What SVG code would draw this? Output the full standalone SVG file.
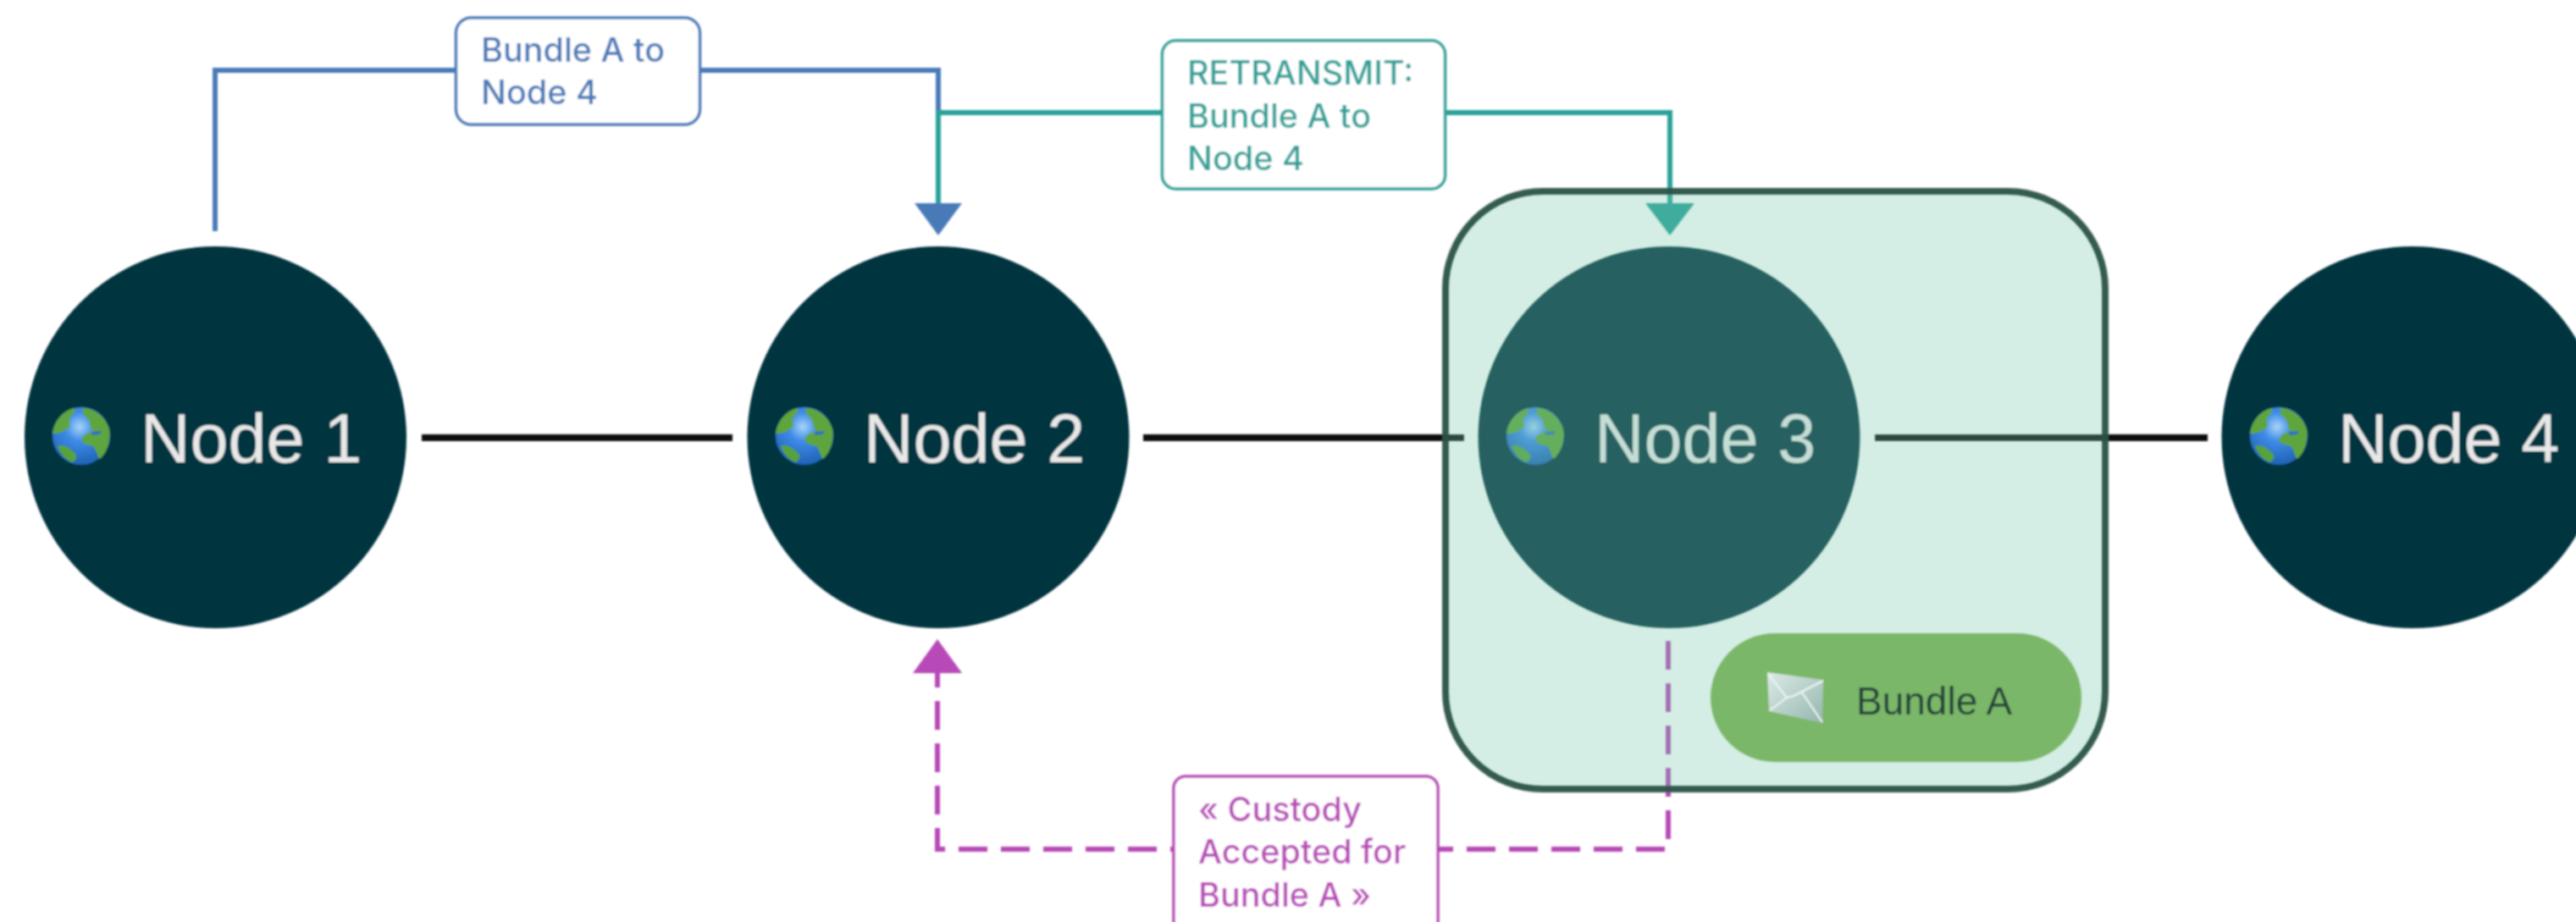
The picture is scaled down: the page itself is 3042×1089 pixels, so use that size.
<svg xmlns="http://www.w3.org/2000/svg" xmlns:xlink="http://www.w3.org/1999/xlink" width="3042" height="1089" viewBox="0 0 3042 1089">
<style>
.node{fill:#063541}
.nlabel{font-family:"Liberation Sans",Arial,sans-serif;font-size:81px;fill:#e8e8e8}
.lab{font-family:Inter,"Liberation Sans",sans-serif;font-size:39.500px;font-weight:500}
.link{stroke:#111;stroke-width:8;fill:none}
.conn{fill:none;stroke-width:6}
.box{fill:#fff;stroke-width:3.500}
.blue{stroke:#4a7ab8}.teal{stroke:#2aa198}.purple{stroke:#b84ab8}
.tblue{fill:#4a7ab8}.tteal{fill:#2aa198}.tpurple{fill:#b84ab8}
</style>
<defs>
<filter id="soft" x="-2%" y="-2%" width="104%" height="104%"><feGaussianBlur stdDeviation="1.1"/></filter>
<marker id="aBlue" markerUnits="userSpaceOnUse" markerWidth="38" markerHeight="56" refX="0" refY="28" orient="auto"><path d="M0 0L38 28L0 56Z" fill="#4a7ab8"/></marker>
<marker id="aTeal" markerUnits="userSpaceOnUse" markerWidth="38" markerHeight="58" refX="0" refY="29" orient="auto"><path d="M0 0L38 29L0 58Z" fill="#2aa198"/></marker>
<marker id="aPurple" markerUnits="userSpaceOnUse" markerWidth="40" markerHeight="58" refX="0" refY="29" orient="auto"><path d="M0 0L40 29L0 58Z" fill="#b84ab8"/></marker>
<radialGradient id="sea" cx="0.47" cy="0.34" r="0.7"><stop offset="0" stop-color="#a8d4f8"/><stop offset="0.35" stop-color="#3f8ce8"/><stop offset="1" stop-color="#1c5fb0"/></radialGradient>
<linearGradient id="env" x1="0" y1="0" x2="1" y2="1"><stop offset="0" stop-color="#dcebe8"/><stop offset="1" stop-color="#95b5ad"/></linearGradient>
<symbol id="globe" overflow="visible">
<circle r="34" fill="url(#sea)"/>
<path d="M-9-33C-22-29-32-18-34-3C-26-2-20-6-14-10C-12-16-16-18-12-24C-8-27-6-30-9-33Z" fill="#5fa53c"/>
<path d="M2-33C14-33 28-24 33-8C35 6 30 20 22 27C18 24 19 17 14 12C8 10 2 10 0 4C2-2 8-4 14-6C8-12 12-18 6-22C2-24 1-29 2-33Z" fill="#5fa53c"/>
<path d="M-28 12C-22 9-14 14-8 20C-4 24-6 28-10 31C-18 29-25 21-28 12Z" fill="#58a23a"/>
<path d="M12-5L24-6L22-2L12-1Z" fill="#2a6fc0"/>
</symbol>
</defs>
<rect width="3042" height="1089" fill="#fff"/>
<g filter="url(#soft)">
<g id="node-1"><circle class="node" cx="254.500" cy="516.500" r="225.500"/><use href="#globe" x="96" y="515"/><text class="nlabel" x="166" y="546">Node 1</text></g>
<g id="node-2"><circle class="node" cx="1108" cy="516.500" r="225.500"/><use href="#globe" x="950" y="515"/><text class="nlabel" x="1020" y="546">Node 2</text></g>
<g id="node-3"><circle class="node" cx="1971" cy="516.500" r="225.500"/><use href="#globe" x="1813" y="515"/><text class="nlabel" x="1883" y="546">Node 3</text></g>
<g id="node-4"><circle class="node" cx="2849" cy="516.500" r="225.500"/><use href="#globe" x="2691" y="515"/><text class="nlabel" x="2761" y="546">Node 4</text></g>
<g id="connectors">
<path class="link" d="M498 517H865"/>
<path class="link" d="M1350 517H1729"/>
<path class="link" d="M2214 517H2607"/>
<path class="conn blue" d="M254 273V83H1108V240" marker-end="url(#aBlue)"/>
<path class="conn teal" d="M1108 240V133H1972V240" marker-end="url(#aTeal)"/>
<path class="conn purple" stroke-dasharray="34 16" d="M1970 757V1003H1107V795" marker-end="url(#aPurple)"/>
<g id="label-blue"><rect class="box blue" x="538.500" y="21" width="288" height="126" rx="18"/><text class="lab tblue" x="568" y="73">Bundle A to</text><text class="lab tblue" x="568" y="123">Node 4</text></g>
<g id="label-teal"><rect class="box teal" x="1372.500" y="48" width="334" height="175" rx="16"/><text class="lab tteal" x="1402" y="100">RETRANSMIT:</text><text class="lab tteal" x="1402" y="151">Bundle A to</text><text class="lab tteal" x="1402" y="201">Node 4</text></g>
<g id="label-purple"><rect class="box purple" x="1386" y="917" width="312" height="190" rx="14"/><text class="lab tpurple" x="1415" y="970">« Custody</text><text class="lab tpurple" x="1415" y="1020">Accepted for</text><text class="lab tpurple" x="1415" y="1071">Bundle A »</text></g>
</g>
<g id="highlight"><rect x="1707" y="226" width="779" height="706" rx="115" fill="#73c6a8" fill-opacity="0.3" stroke="#2c5247" stroke-opacity="0.95" stroke-width="8"/></g>
<g id="bundle-a"><rect x="2020" y="748" width="438" height="152" rx="76" fill="#7ab768"/>
<path d="M2087 794L2153 803L2152 854L2089 840Z" fill="url(#env)"/>
<path d="M2088 796L2110 824L2118 822L2153 804M2090 839L2110 824M2128 818L2152 853" fill="none" stroke="#eef6f3" stroke-width="2"/>
<text x="2192" y="844" font-family="'Liberation Sans',Arial,sans-serif" font-size="46" fill="#22403a">Bundle A</text></g>
</g>
</svg>
